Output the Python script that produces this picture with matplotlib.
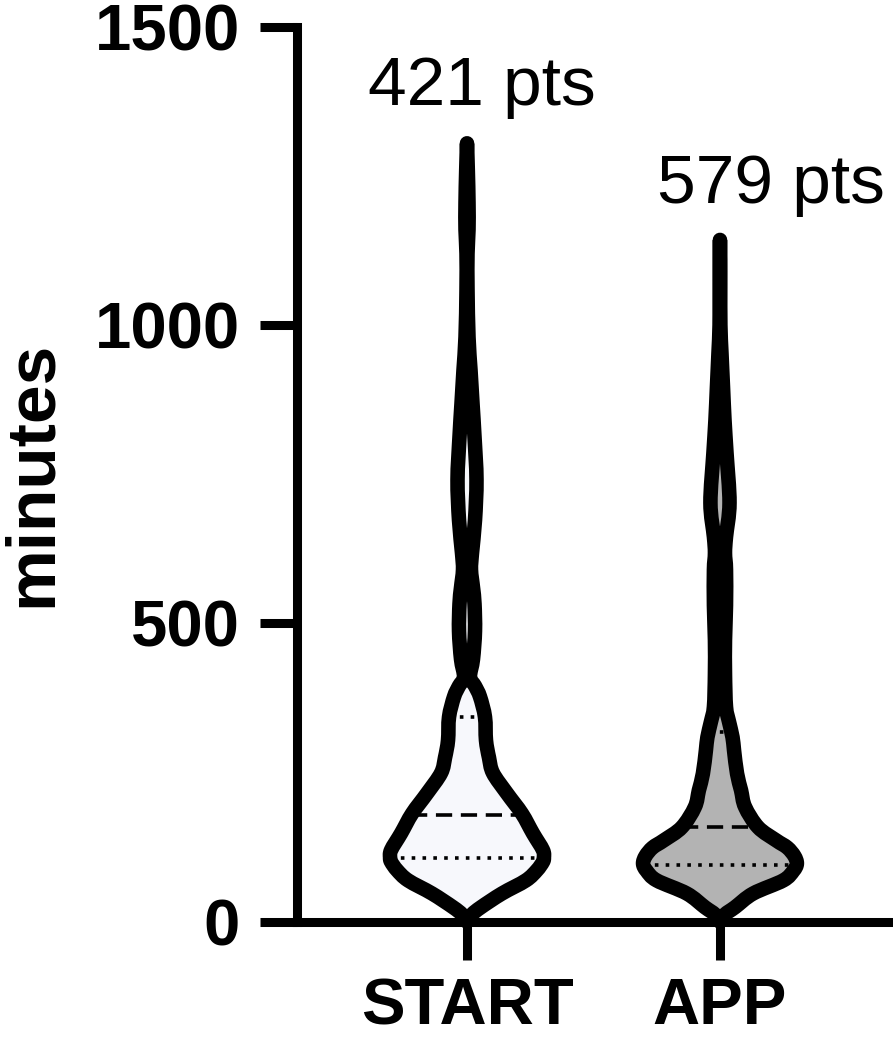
import numpy as np
import matplotlib
matplotlib.use("Agg")
import matplotlib.pyplot as plt
from matplotlib.path import Path
from matplotlib.patches import PathPatch

plt.rcParams['font.family'] = ['Liberation Sans', 'DejaVu Sans']

# groups and sample sizes
groups = ['START', 'APP']
n_points = [421, 579]

# violin outlines: minutes vs relative half-width (1 = widest)
start_minutes = [0, 12, 24, 47, 69, 86, 100, 107, 120, 148, 181, 215, 249, 275, 304,
                 343, 377, 395, 410, 440, 487, 533, 560, 590, 618, 673, 741, 813,
                 869, 925, 980, 1060, 1120, 1160, 1205, 1260, 1305]
start_width = [0, 5, 14, 35, 59, 70, 76, 77, 76, 66, 55, 40, 26, 22, 19,
               18, 13, 8, 3, 6, 8, 7.5, 6, 4, 5, 8, 9.5, 7.5,
               5.5, 3.5, 1.5, 0.5, 0.5, 1.5, 1.5, 0.8, 0]

app_minutes = [0, 12, 24, 47, 69, 85, 97, 110, 124, 136, 158, 192, 220, 248, 287,
               309, 335, 360, 416, 472, 530, 590, 618, 645, 702, 786, 841, 897,
               953, 1000, 1064, 1110, 1143]
app_width = [0, 5, 15, 33, 63, 73, 76.5, 74, 67, 56, 38, 25, 21, 17, 14,
             12.5, 9, 6, 5, 5, 6, 6, 5, 6, 9.5, 6.5, 4.5, 3,
             1.5, 0.4, 0.3, 0.3, 0]

# quartiles (q1, median, q3)
start_quartiles = [107, 178, 343]
app_quartiles = [94, 158, 318]

fills = ['#F7F8FC', '#B3B3B3']
half_width = 0.304  # x units at the widest point


def smooth_side(xs, ys):
    """Catmull-Rom through the points, returned as cubic bezier vertices"""
    pts = np.column_stack([xs, ys])
    ext = np.vstack([pts[0], pts, pts[-1]])
    verts = []
    for k in range(1, len(ext) - 2):
        p0, p1, p2, p3 = ext[k - 1], ext[k], ext[k + 1], ext[k + 2]
        c1 = p1 + (p2 - p0) / 6.0
        c2 = p2 - (p3 - p1) / 6.0
        verts.extend([c1, c2, p2])
    return pts[0], verts


def violin_path(center, mins, wid):
    mins = np.array(mins, dtype=float)
    w = np.array(wid, dtype=float) / max(wid) * half_width
    start, left = smooth_side(center - w, mins)
    _, right = smooth_side((center + w)[::-1], mins[::-1])
    verts = [start] + left + right
    codes = [Path.MOVETO] + [Path.CURVE4] * (len(left) + len(right))
    return Path(verts, codes), mins, w


fig = plt.figure(figsize=(8.93, 10.4), dpi=100)
ax = fig.add_axes([0.3326, 0.1139, 0.6674, 0.8601])

profiles = [(start_minutes, start_width, start_quartiles),
            (app_minutes, app_width, app_quartiles)]

for i, (mins, wid, quart) in enumerate(profiles):
    path, m, w = violin_path(i, mins, wid)
    ax.add_patch(PathPatch(path, facecolor=fills[i], edgecolor='none',
                           zorder=2, clip_on=False))
    for q, style in zip(quart, [(1, 2), (4.5, 2.4), (1, 2)]):
        qw = np.interp(q, m, w)
        ax.plot([i - qw, i + qw], [q, q], color='black', lw=2.6,
                dashes=style, zorder=3)
    ax.add_patch(PathPatch(path, facecolor='none', edgecolor='black', lw=10.5,
                           joinstyle='round', capstyle='round', zorder=4,
                           clip_on=False))

# sample size labels
ax.text(0.06, 1369, f'{n_points[0]} pts', ha='center', va='baseline', fontsize=50)
ax.text(1.20, 1205, f'{n_points[1]} pts', ha='center', va='baseline', fontsize=50)

ax.set_xlim(-0.672, 1.684)
ax.set_ylim(0, 1500)
ax.set_xticks([0, 1])
ax.set_xticklabels(groups, fontsize=47, fontweight='bold')
ax.set_yticks([0, 500, 1000, 1500])
ax.set_yticklabels(['0', '500', '1000', '1500'], fontsize=47, fontweight='bold')
ax.tick_params(axis='both', width=6.5, length=27, color='black')
ax.tick_params(axis='y', pad=14)
ax.tick_params(axis='x', pad=13)

for side in ['top', 'right']:
    ax.spines[side].set_visible(False)
for side in ['left', 'bottom']:
    ax.spines[side].set_linewidth(6.5)
    ax.spines[side].set_capstyle('projecting')

ax.set_ylabel('minutes', fontsize=50, fontweight='bold')
ax.yaxis.set_label_coords(-0.39, 0.5)
ax.patch.set_alpha(0)

fig.savefig('out.png', dpi=100)
